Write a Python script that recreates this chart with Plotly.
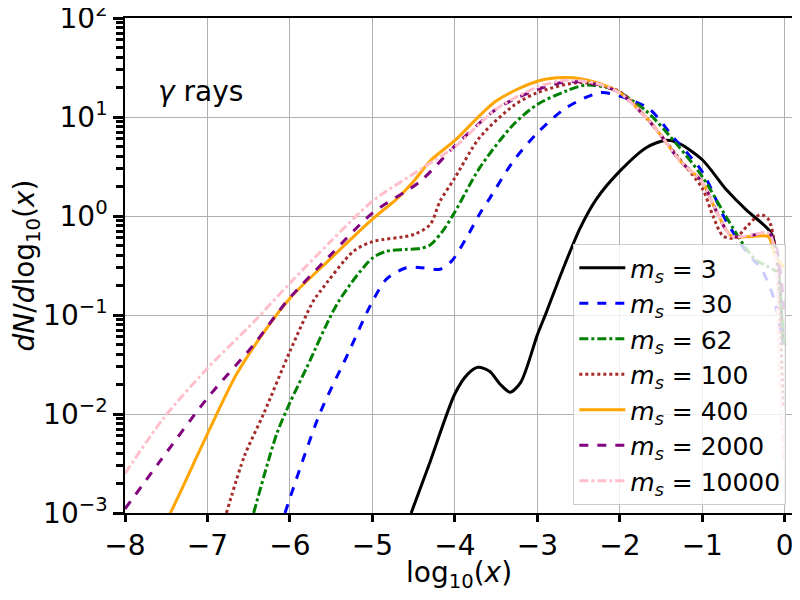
import plotly.graph_objects as go

# ---------------- data ----------------
x_m3 = [-4.53, -4.3, -4.0, -3.85, -3.72, -3.58, -3.45, -3.33, -3.2, -3.0, -2.89, -2.69, -2.48, -2.28, -2.0,
        -1.68, -1.45, -1.3, -1.0, -0.71, -0.47, -0.26, -0.18, -0.14, -0.1, -0.06, -0.02]
y_m3 = [1e-3, 0.0033, 0.016, 0.025, 0.0296, 0.027, 0.02, 0.0166, 0.021, 0.063, 0.107, 0.29, 0.76, 1.5, 2.84,
        4.9, 5.8, 5.5, 3.7, 1.85, 1.16, 0.82, 0.7, 0.6, 0.4, 0.2, 0.05]

x_m30 = [-6.06, -5.64, -5.3, -5.0, -4.83, -4.59, -4.4, -4.18, -4.04, -3.86, -3.7, -3.58, -3.29, -3.0, -2.65,
         -2.24, -2.0, -1.64, -1.35, -1.0, -0.71, -0.485, -0.38, -0.29, -0.13, -0.02]
y_m30 = [1e-3, 0.01, 0.04, 0.137, 0.23, 0.30, 0.30, 0.29, 0.35, 0.6, 1.05, 1.5, 3.6, 6.9, 12.4,
         17.6, 16.3, 12.0, 6.2, 2.8, 0.89, 0.46, 0.36, 0.30, 0.145, 0.05]

x_m62 = [-6.44, -6.16, -6.0, -5.8, -5.41, -5.0, -4.83, -4.6, -4.42, -4.30, -4.15, -4.0, -3.7, -3.29, -3.0,
         -2.65, -2.41, -2.08, -1.68, -1.3, -1.0, -0.7, -0.47, -0.35, -0.21, -0.1, -0.05, 0.0]
y_m62 = [1e-3, 0.0063, 0.013, 0.029, 0.137, 0.376, 0.44, 0.46, 0.47, 0.51, 0.7, 1.1, 3.06, 8.4, 13.4,
         18.3, 21.0, 19.0, 11.5, 5.2, 2.5, 0.95, 0.47, 0.36, 0.31, 0.27, 0.13, 0.05]

x_m100 = [-6.77, -6.55, -6.32, -6.0, -5.72, -5.64, -5.23, -5.0, -4.5, -4.30, -4.18, -4.0, -3.7, -3.29, -3.0,
          -2.48, -2.0, -1.64, -1.3, -1.0, -0.87, -0.75, -0.6, -0.45, -0.3, -0.2, -0.12, -0.06, -0.02]
y_m100 = [1e-3, 0.0038, 0.01, 0.043, 0.137, 0.17, 0.44, 0.55, 0.65, 0.82, 1.41, 2.43, 6.2, 13.0, 17.6,
          22.3, 18.0, 9.0, 4.0, 1.9, 1.0, 0.63, 0.6, 0.8, 1.03, 0.93, 0.5, 0.1, 0.012]

x_m400 = [-7.55, -7.45, -7.0, -6.65, -6.3, -6.0, -5.5, -5.0, -4.7, -4.5, -4.3, -4.0, -3.5, -3.0, -2.65,
          -2.3, -2.0, -1.64, -1.5, -1.27, -1.0, -0.83, -0.65, -0.4, -0.2, -0.12, -0.05, 0.0]
y_m400 = [0.0007, 0.001, 0.0063, 0.025, 0.07, 0.148, 0.376, 0.93, 1.5, 2.24, 3.6, 5.8, 14.5, 23.0, 25.0,
          22.5, 17.6, 9.1, 6.5, 3.6, 2.2, 1.12, 0.63, 0.62, 0.62, 0.4, 0.33, 0.3]

x_m2000 = [-8.0, -7.58, -7.0, -6.44, -6.04, -5.5, -5.0, -4.42, -4.0, -3.5, -3.29, -3.0, -2.65, -2.3, -2.0,
           -1.64, -1.5, -1.27, -1.0, -0.83, -0.65, -0.4, -0.2, -0.12, -0.06, -0.02, 0.0]
y_m2000 = [0.0011, 0.0033, 0.0145, 0.05, 0.137, 0.41, 1.07, 2.24, 5.1, 12.0, 15.0, 19.0, 22.7, 21.5, 17.5,
           9.0, 6.5, 3.6, 2.2, 1.12, 0.63, 0.64, 0.68, 0.55, 0.3, 0.15, 0.1]

x_m10000 = [-8.0, -7.54, -7.0, -6.44, -6.0, -5.5, -5.0, -4.42, -4.0, -3.5, -3.0, -2.65, -2.3, -2.0,
            -1.64, -1.5, -1.27, -1.0, -0.83, -0.65, -0.4, -0.2, -0.12, -0.08, -0.04, -0.01]
y_m10000 = [0.0025, 0.0089, 0.029, 0.085, 0.21, 0.56, 1.41, 2.95, 5.0, 12.0, 20.0, 23.5, 22.0, 17.5,
            9.0, 6.5, 3.6, 2.2, 1.12, 0.63, 0.64, 0.68, 0.45, 0.05, 0.01, 0.003]

labels = ["3", "30", "62", "100", "400", "2000", "10000"]
x_ticks = [-8, -7, -6, -5, -4, -3, -2, -1, 0]
x_ticktext = ["−8", "−7", "−6", "−5", "−4", "−3", "−2", "−1", "0"]
y_ticks = [1e-3, 1e-2, 1e-1, 1e0, 1e1, 1e2]
y_ticktext = ["10<sup>−3</sup>", "10<sup>−2</sup>", "10<sup>−1</sup>", "10<sup>0</sup>",
              "10<sup>1</sup>", "10<sup>2</sup>"]

series = [
    (x_m3, y_m3, "black", "solid"),
    (x_m30, y_m30, "blue", "dash"),
    (x_m62, y_m62, "green", "dashdot"),
    (x_m100, y_m100, "brown", "dot"),
    (x_m400, y_m400, "orange", "solid"),
    (x_m2000, y_m2000, "purple", "dash"),
    (x_m10000, y_m10000, "pink", "dashdot"),
]

FONT = "DejaVu Sans"
fig = go.Figure()
for (xs, ys, col, dash), lab in zip(series, labels):
    fig.add_trace(go.Scatter(
        x=xs, y=ys, mode="lines",
        name=f"<i>m<sub>s</sub></i> = {lab}",
        line=dict(color=col, dash=dash, width=3, shape="spline", smoothing=0.8),
    ))

fig.add_annotation(x=-7.08, y=1.253, xref="x", yref="y", text="<i>γ</i> rays",
                   showarrow=False, font=dict(size=28, color="black", family=FONT))
# x-axis title placed precisely
fig.add_annotation(x=0.5, y=-0.125, xref="paper", yref="paper", text="log<sub>10</sub>(<i>x</i>)",
                   showarrow=False, xanchor="center", yanchor="middle",
                   font=dict(size=28, color="black", family=FONT))

# page body has an 8px offset: figure is 792x592 so the plot lands where the reference has it
fig.update_layout(
    width=792, height=592,
    margin=dict(l=117, r=7, t=10, b=87, autoexpand=False),
    paper_bgcolor="white", plot_bgcolor="white",
    font=dict(family=FONT, size=28, color="black"),
    showlegend=True,
    legend=dict(x=0.99, y=0.016, xanchor="right", yanchor="bottom",
                bgcolor="rgba(255,255,255,0.8)", bordercolor="#cccccc", borderwidth=1,
                itemwidth=46, font=dict(size=25, family=FONT)),
)
fig.update_xaxes(
    range=[-8, 0.1], tickvals=x_ticks, ticktext=x_ticktext, automargin=False,
    ticklabeloverflow="allow",
    showline=True, linecolor="black", linewidth=1.5, mirror=True,
    ticks="outside", ticklen=7, tickwidth=3, tickcolor="black",
    showgrid=True, gridcolor="#b0b0b0", gridwidth=1, zeroline=False,
    tickfont=dict(size=28),
)
fig.update_yaxes(
    type="log", range=[-3, 2], tickvals=y_ticks, ticktext=y_ticktext, automargin=False,
    ticklabeloverflow="allow",
    showline=True, linecolor="black", linewidth=1.5, mirror=True,
    ticks="outside", ticklen=10, tickwidth=3, tickcolor="black",
    minor=dict(ticks="outside", ticklen=7, tickwidth=3, tickcolor="black", dtick="D1", showgrid=False),
    showgrid=True, gridcolor="#b0b0b0", gridwidth=1, zeroline=False,
    title=dict(text="<i>dN</i>/<i>d</i>log<sub>10</sub>(<i>x</i>)", font=dict(size=28), standoff=6),
    tickfont=dict(size=28),
)

fig.write_html("out.html")
